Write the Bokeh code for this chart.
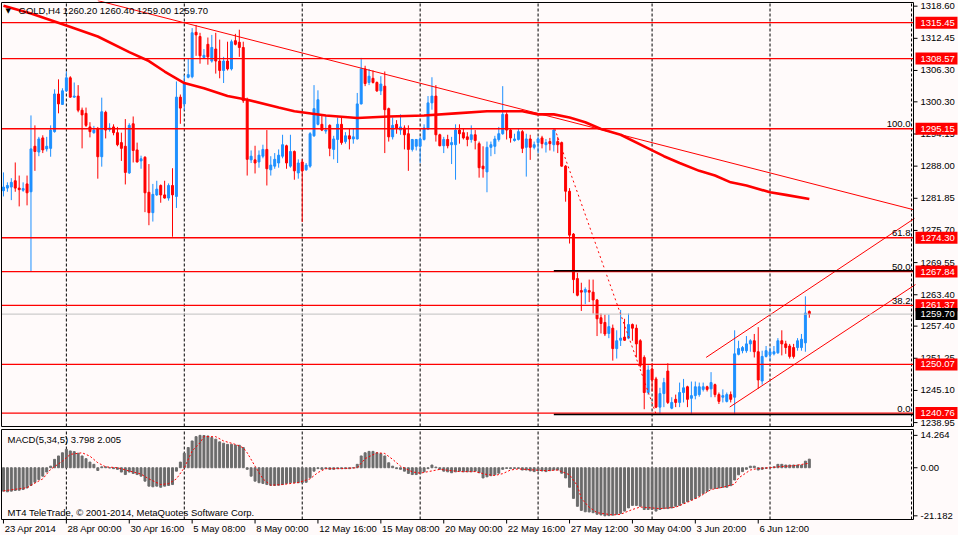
from bokeh.plotting import figure
from bokeh.models import Range1d, ColumnDataSource
from bokeh.layouts import column
from bokeh.embed import file_html
from bokeh.resources import INLINE
from bokeh.core.properties import value

# ---------------- data ----------------
opens = [1283.3,1283.8,1284.0,1285.2,1283.8,1283.4,1284.6,1283.1,1291.8,1290.7,
1293.4,1291.3,1291.4,1294.6,1301.8,1299.8,1302.4,1304.9,1301.2,1301.4,
1298.7,1298.1,1295.5,1294.4,1295.2,1289.8,1298.3,1295.0,1295.5,1294.4,
1292.5,1291.8,1286.7,1296.1,1291.1,1289.0,1289.7,1283.0,1279.1,1282.5,
1284.3,1282.5,1281.9,1284.3,1282.2,1301.2,1299.9,1305.0,1305.1,1313.6,
1312.8,1308.8,1311.3,1308.1,1310.4,1308.1,1306.3,1308.1,1306.6,1312.0,
1311.7,1310.7,1300.7,1289.2,1289.2,1288.8,1289.9,1291.2,1287.3,1288.0,
1288.6,1289.9,1291.9,1288.0,1290.8,1286.7,1288.8,1287.3,1288.0,1293.8,
1296.0,1296.0,1294.7,1295.8,1291.2,1293.1,1296.0,1292.7,1293.8,1293.2,
1293.2,1299.9,1306.6,1304.0,1304.8,1304.0,1302.4,1303.3,1299.0,1293.6,
1296.0,1294.9,1295.3,1294.2,1291.2,1291.8,1291.8,1293.1,1295.1,1300.1,
1301.4,1294.0,1291.9,1293.1,1292.1,1292.1,1294.9,1294.4,1293.6,1293.1,
1294.0,1292.3,1288.0,1286.9,1291.6,1291.8,1293.1,1294.2,1297.9,1294.9,
1292.9,1293.1,1294.6,1291.6,1293.2,1291.6,1292.5,1293.4,1292.1,1292.7,
1292.1,1292.7,1292.5,1288.0,1283.2,1275.0,1266.5,1264.2,1263.9,1264.2,
1263.9,1262.4,1259.0,1258.1,1256.0,1257.0,1253.1,1254.7,1255.3,1255.1,
1257.7,1257.0,1254.6,1251.4,1244.7,1249.2,1247.3,1241.9,1244.5,1248.8,
1241.7,1243.4,1242.8,1244.7,1245.8,1243.6,1244.1,1244.3,1245.3,1245.8,
1245.4,1246.2,1244.3,1243.8,1243.0,1244.3,1243.8,1252.0,1252.7,1252.7,
1254.0,1254.6,1252.5,1246.9,1251.6,1251.9,1252.1,1252.3,1254.6,1254.0,
1253.6,1253.3,1253.3,1253.3,1254.2,1260.2]
highs = [1286.8,1284.9,1285.7,1288.7,1286.2,1284.9,1286.2,1297.7,1295.8,1293.6,
1293.9,1293.6,1295.8,1302.7,1304.6,1302.9,1306.1,1305.2,1304.0,1303.5,
1299.2,1299.2,1296.4,1295.7,1295.5,1301.1,1298.6,1296.2,1296.0,1295.5,
1294.4,1297.0,1296.2,1297.5,1292.5,1290.0,1289.9,1288.4,1284.6,1285.2,
1284.5,1285.2,1284.7,1287.6,1304.2,1301.7,1305.4,1308.5,1314.4,1315.0,
1313.5,1310.4,1312.6,1313.1,1313.5,1312.2,1308.9,1311.8,1312.2,1313.3,
1314.1,1311.8,1301.1,1291.0,1291.9,1291.0,1292.1,1294.9,1289.9,1290.5,
1291.2,1294.0,1292.1,1294.0,1291.0,1289.3,1289.3,1288.6,1294.5,1303.5,
1302.5,1297.9,1297.7,1296.0,1293.8,1297.3,1297.3,1294.5,1295.3,1295.1,
1302.0,1308.7,1307.2,1306.6,1306.3,1304.2,1305.2,1306.1,1299.2,1297.3,
1296.8,1297.9,1295.8,1295.8,1293.2,1293.2,1293.6,1296.0,1301.4,1305.0,
1303.5,1294.2,1293.6,1294.0,1293.6,1296.0,1296.0,1295.1,1294.5,1295.8,
1294.9,1292.7,1291.8,1292.7,1292.7,1293.8,1295.5,1303.3,1298.3,1295.1,
1294.2,1295.1,1294.9,1294.2,1294.0,1292.7,1293.6,1293.8,1293.2,1293.4,
1295.15,1293.6,1292.7,1288.2,1283.8,1275.2,1267.6,1265.7,1264.8,1266.3,
1266.3,1262.6,1259.8,1259.6,1259.6,1257.7,1256.6,1260.5,1258.8,1259.8,
1257.9,1257.7,1254.9,1251.8,1249.9,1250.3,1247.7,1245.6,1247.5,1250.3,
1243.8,1244.3,1246.6,1247.3,1246.0,1246.8,1246.8,1246.6,1246.6,1246.0,
1248.6,1246.4,1244.7,1245.3,1244.7,1244.9,1256.6,1254.6,1253.6,1255.5,
1254.9,1255.9,1257.2,1252.7,1253.6,1253.3,1253.6,1255.1,1256.6,1254.6,
1254.0,1254.0,1255.1,1255.9,1263.1,1260.4]
lows = [1282.2,1283.1,1281.5,1283.1,1280.3,1283.1,1280.5,1267.9,1287.1,1289.9,
1290.5,1290.8,1289.8,1294.4,1298.1,1299.7,1302.2,1301.1,1301.1,1298.3,
1291.4,1295.5,1293.5,1294.2,1285.6,1287.9,1293.3,1294.6,1293.9,1291.8,
1289.0,1284.5,1286.5,1288.7,1288.7,1287.5,1279.2,1276.7,1277.4,1282.3,
1281.0,1281.8,1281.4,1274.5,1280.0,1296.1,1298.7,1304.8,1304.8,1309.1,
1307.6,1308.7,1307.4,1307.8,1305.7,1304.8,1303.9,1306.3,1306.3,1311.1,
1308.9,1300.1,1286.2,1288.6,1286.6,1287.7,1289.5,1284.3,1286.2,1287.5,
1287.7,1289.5,1287.5,1287.7,1285.4,1285.6,1277.3,1287.1,1287.7,1293.6,
1295.8,1294.7,1294.2,1289.9,1289.3,1288.6,1292.1,1292.3,1291.2,1292.3,
1293.1,1299.8,1303.3,1303.5,1303.8,1302.2,1301.6,1290.5,1292.7,1293.1,
1294.2,1294.0,1291.2,1287.1,1290.8,1291.0,1288.6,1292.9,1294.9,1298.8,
1292.7,1291.8,1290.5,1291.4,1288.4,1285.4,1292.3,1293.1,1291.8,1292.5,
1291.2,1285.8,1285.8,1283.0,1289.9,1290.3,1292.7,1294.0,1293.1,1292.5,
1292.7,1292.9,1290.5,1286.0,1289.2,1291.2,1290.5,1291.4,1290.6,1291.0,
1290.8,1290.5,1287.9,1281.2,1273.2,1263.7,1263.1,1260.3,1261.6,1262.0,
1259.8,1255.5,1256.0,1255.5,1255.1,1250.8,1251.2,1253.6,1254.6,1254.9,
1254.6,1251.4,1249.5,1241.5,1244.3,1244.9,1241.7,1240.6,1241.9,1242.5,
1241.5,1241.9,1241.9,1242.8,1241.9,1240.4,1243.4,1243.9,1244.9,1244.9,
1243.8,1243.8,1242.5,1242.8,1242.8,1242.8,1240.6,1251.8,1252.2,1252.3,
1252.5,1251.4,1245.4,1246.2,1251.4,1250.8,1251.8,1252.1,1251.8,1252.1,
1251.2,1251.2,1252.7,1252.7,1252.5,1259.0]
closes = [1284.0,1284.3,1284.9,1283.8,1283.5,1283.7,1282.9,1291.3,1290.8,1293.2,
1291.1,1291.8,1294.9,1301.8,1299.9,1302.4,1304.9,1301.2,1301.4,1298.7,
1297.8,1295.8,1294.6,1294.9,1289.8,1298.4,1294.9,1295.3,1294.4,1292.1,
1291.4,1286.8,1295.8,1291.0,1288.8,1289.4,1282.9,1279.1,1282.6,1283.6,
1282.5,1281.9,1284.3,1282.5,1301.2,1299.1,1303.7,1305.5,1313.5,1313.1,
1309.1,1309.2,1308.9,1310.7,1308.1,1306.3,1308.1,1306.6,1311.8,1311.3,
1310.7,1300.5,1289.3,1289.9,1288.6,1290.1,1291.2,1287.5,1288.2,1289.3,
1290.1,1292.1,1288.6,1290.8,1287.1,1288.6,1287.1,1288.2,1294.2,1299.0,
1300.7,1294.9,1294.9,1291.4,1293.2,1296.0,1292.5,1293.8,1293.2,1293.6,
1299.9,1306.6,1303.8,1305.2,1304.0,1302.4,1303.7,1298.8,1293.6,1295.8,
1295.3,1295.5,1294.0,1291.2,1293.1,1293.1,1293.2,1295.3,1300.1,1301.4,
1294.0,1291.9,1293.1,1291.9,1292.5,1294.9,1294.2,1293.4,1293.1,1294.0,
1292.9,1287.7,1287.5,1291.6,1292.1,1293.2,1294.2,1297.9,1294.9,1293.4,
1293.2,1294.6,1291.4,1293.2,1291.6,1292.1,1293.2,1292.3,1292.5,1292.3,
1294.9,1292.1,1288.0,1283.2,1274.8,1266.3,1263.3,1263.9,1264.4,1263.9,
1262.4,1258.8,1257.9,1255.9,1257.3,1253.1,1254.6,1255.1,1254.7,1257.7,
1257.0,1254.0,1249.9,1244.7,1249.0,1247.1,1241.9,1244.5,1246.6,1242.8,
1242.8,1242.8,1244.7,1245.6,1243.4,1244.1,1245.8,1245.8,1245.8,1245.3,
1246.6,1244.3,1243.0,1244.1,1244.3,1243.4,1252.1,1253.1,1253.3,1254.0,
1254.6,1252.5,1247.1,1251.6,1252.7,1252.5,1252.5,1254.6,1254.0,1253.3,
1251.6,1251.6,1254.6,1254.9,1259.9,1259.7]

macd_hist = [-10.3,-10.6,-10.3,-10.0,-9.9,-9.6,-8.9,-7.8,-6.4,-5.2,
-3.7,-1.9,0.7,3.7,5.2,6.6,8.1,7.4,7.1,6.4,
5.2,4.0,2.5,1.5,-1.2,0.4,0.4,-0.1,-0.4,-0.7,
-1.9,-3.0,-1.9,-2.5,-3.0,-3.7,-5.9,-8.1,-8.4,-8.1,
-8.6,-8.1,-7.8,-7.4,-1.5,2.5,6.4,8.9,11.8,13.7,
14.264,14.2,14.0,13.3,12.6,11.4,10.8,10.3,10.3,10.0,
9.9,8.9,-0.7,-3.7,-5.9,-6.6,-6.9,-7.4,-7.8,-7.8,
-7.7,-7.4,-6.9,-6.6,-6.6,-6.6,-6.6,-6.4,-4.4,-1.5,
-0.4,-0.7,-0.4,-0.7,-0.7,-0.4,-0.4,-0.4,-0.4,-0.1,
1.5,5.2,6.6,7.2,7.2,6.6,6.2,5.2,2.2,0.7,
-0.4,-0.7,-1.5,-2.5,-3.0,-3.0,-2.5,-1.8,-0.4,1.2,
0.3,-0.7,-1.5,-1.8,-2.2,-1.8,-1.5,-1.8,-1.8,-1.8,
-1.5,-2.2,-4.5,-4.0,-3.5,-3.1,-2.4,-0.7,-0.3,-0.4,
-0.3,-0.3,-1.0,-1.0,-1.4,-1.7,-1.3,-1.4,-1.7,-1.3,
-1.0,-1.0,-2.4,-4.5,-8.6,-13.5,-17.0,-18.8,-19.4,-19.5,
-19.8,-20.5,-20.8,-21.182,-21.1,-20.9,-20.5,-20.1,-19.1,-17.7,
-16.6,-16.6,-17.0,-18.4,-18.4,-18.4,-19.1,-18.4,-18.0,-18.0,
-17.7,-17.0,-16.6,-15.6,-14.9,-14.2,-13.5,-12.4,-11.4,-10.4,
-9.3,-9.1,-8.9,-8.6,-8.6,-7.9,-5.4,-3.1,-1.7,-0.7,
0.7,0.7,-1.0,-0.7,-0.3,0.1,0.4,1.5,1.5,1.2,
1.2,1.2,1.2,1.2,2.9,3.798]

signal_idx = [0,2,6,7,10,12,15,17,20,22,24,26,29,32,35,37,40,42,44,46,48,50,51,54,56,59,61,62,64,66,
              68,71,75,78,80,82,86,90,92,95,97,99,101,104,106,109,111,116,120,123,125,127,129,131,135,
              138,141,144,146,147,149,151,155,157,160,162,165,167,171,174,177,180,183,186,187,190,192,
              195,197,201,205]
signal_val = [-10.2,-9.7,-8.8,-7.7,-4.9,-0.7,2.9,5.9,6.6,5.1,2.2,0.4,0.0,-1.4,-2.8,-4.9,-7.4,-7.0,-4.9,0.0,
              7.4,11.0,13.7,13.7,11.8,10.3,8.8,6.6,0.7,-4.9,-7.7,-7.4,-6.5,-4.9,-2.1,-0.4,-0.4,0.0,4.0,6.6,
              6.3,3.7,0.7,-1.8,-2.4,-1.4,-0.7,-1.7,-1.7,-3.0,-3.4,-2.6,-1.0,-0.5,-1.0,-1.3,-1.0,-3.1,-7.9,
              -13.5,-17.4,-19.8,-20.8,-20.5,-18.4,-17.3,-17.7,-18.0,-17.4,-15.2,-12.8,-9.6,-8.6,-7.2,-4.5,
              -1.0,-0.3,0.0,0.4,0.9,2.005]

ma_idx = [0,7,16,24,32,37,41,46,51,57,62,70,74,82,90,98,107,115,123,132,136,140,144,148,152,157,
          164,168,172,177,181,185,189,195,199,205]
ma_val = [1318.7,1317.2,1314.9,1312.8,1309.8,1308.1,1306.1,1303.9,1302.9,1301.4,1300.7,1299.2,1298.5,
          1297.7,1297.2,1297.5,1297.7,1298.1,1298.5,1298.5,1297.9,1297.9,1297.3,1296.4,1295.1,1294.0,
          1291.4,1289.9,1288.6,1287.1,1286.2,1284.9,1284.3,1283.0,1282.5,1281.7]

level_prices = [1315.45, 1308.57, 1295.15, 1274.30, 1267.84, 1261.37, 1250.07, 1240.76]
bid_price = 1259.70

fib_ratio_labels = ["100.0", "61.8", "50.0", "38.2", "0.0"]
fib_label_prices = [1295.15, 1274.30, 1267.84, 1261.37, 1240.76]
fib_black_prices = [1268.0, 1240.5]
fib_start_idx = 140
fib_line_idx = [140.25, 166.0]
fib_line_price = [1295.15, 1240.6]

down_tl_idx = [24.0, 231.5]
down_tl_price = [1319.66, 1279.67]
chan_up_idx = [178.75, 231.75]
chan_up_price = [1251.41, 1278.0]
chan_lo_idx = [184.75, 232.0]
chan_lo_price = [1241.92, 1265.35]

price_ticks = [1318.60, 1312.45, 1306.30, 1300.30, 1294.15, 1288.00, 1281.85, 1275.70,
               1269.55, 1263.40, 1257.40, 1251.25, 1245.10, 1238.95]
macd_ticks = [14.264, 0.0, -21.182]
macd_tick_labels = ["14.264", "0.00", "-21.182"]
time_tick_idx = [0,16,32,48,64,80,96,112,128,144,160,176,192]
time_tick_labels = ["23 Apr 2014","28 Apr 00:00","30 Apr 16:00","5 May 08:00","8 May 00:00",
                    "12 May 16:00","15 May 08:00","20 May 00:00","22 May 16:00","27 May 12:00",
                    "30 May 04:00","3 Jun 20:00","6 Jun 12:00"]
grid_idx = [16, 46, 76, 106, 136, 165, 195, 231]

header_text = "GOLD,H4  1260.20 1260.40 1259.00 1259.70"
macd_text = "MACD(5,34,5) 3.798 2.005"
footer_text = "MT4 TeleTrade, \u00a9 2001-2014, MetaQuotes Software Corp."

# ---------------- geometry ----------------
FONT = "Liberation Sans"
FS = "9.5px"
BG = "#FFFAFA"
RED = "#FF0000"
BLUE = "#1E90FF"
TOTAL_W = 958
CX0, CW = 1, 912            # chart area inside the frame (px)
MAIN_H, CY0, CH = 428, 2, 424
MACD_H, MY0, MH = 107, 1, 90
XS, XE = -0.5, 231.5
YS, YE = 1238.2, 1319.3
MS, ME = -22.8, 16.85

kx = CW / (XE - XS)
ky = CH / (YE - YS)
km = MH / (ME - MS)
X0 = XS - CX0 / kx
X1 = XE + (TOTAL_W - CX0 - CW) / kx

def xr(px):
    return XS + px / kx

def ymain(py):
    return YE - py / ky

def ymacd(py):
    return ME - py / km

x_range = Range1d(X0, X1)

n = len(opens)
idx = list(range(n))
cols = [BLUE if c >= o else RED for o, c in zip(opens, closes)]
src = ColumnDataSource(dict(x=idx, o=opens, h=highs, l=lows, c=closes,
                            top=[max(a, b) for a, b in zip(opens, closes)],
                            bot=[min(a, b) for a, b in zip(opens, closes)],
                            col=cols, macd=macd_hist))

def base_fig(h, yr):
    f = figure(frame_width=TOTAL_W, frame_height=h, x_range=x_range, y_range=yr,
               output_backend="svg", toolbar_location=None, x_axis_location=None,
               y_axis_location=None, background_fill_color=BG, border_fill_color=BG,
               min_border=0)
    f.outline_line_color = None
    f.grid.grid_line_color = None
    return f

def txt(f, x, y, t, align="left", baseline="middle", color="black"):
    f.text(x=list(x), y=list(y), text=list(t), text_font=value(FONT), text_font_size=value(FS),
           text_align=align, text_baseline=baseline, text_color=color)

# ---------------- main panel ----------------
p = base_fig(MAIN_H, Range1d(YS - (MAIN_H - CY0 - CH) / ky, YE + CY0 / ky))

p.segment(x0=grid_idx, y0=[YS] * len(grid_idx), x1=grid_idx, y1=[YE] * len(grid_idx),
          color="black", line_dash="3 2", line_width=1)

p.segment(x0="x", y0="l", x1="x", y1="h", color="col", line_width=1, source=src)
p.vbar(x="x", width=0.5, top="top", bottom="bot", fill_color="col", line_color="col",
       line_width=1, source=src)

p.line(ma_idx, ma_val, color=RED, line_width=2.6)
p.line(down_tl_idx, down_tl_price, color=RED, line_width=1)
p.line(chan_up_idx, chan_up_price, color=RED, line_width=1)
p.line(chan_lo_idx, chan_lo_price, color=RED, line_width=1)
p.line(fib_line_idx, fib_line_price, color=RED, line_width=1, line_dash="2 3")

p.segment(x0=[XS], y0=[bid_price], x1=[XE], y1=[bid_price], color="#C0C0C0", line_width=1)
nl = len(level_prices)
p.segment(x0=[XS] * nl, y0=level_prices, x1=[XE] * nl, y1=level_prices, color=RED, line_width=1.3)
nb = len(fib_black_prices)
p.segment(x0=[fib_start_idx] * nb, y0=fib_black_prices, x1=[XE] * nb, y1=fib_black_prices,
          color="black", line_width=1.6)

# frame borders
p.segment(x0=[XS, XS, XS, XE], y0=[YS, YE, YS, YS], x1=[XE, XE, XS, XE], y1=[YS, YE, YE, YE],
          color="black", line_width=1)

nf = len(fib_ratio_labels)
txt(p, [xr(CW - 3)] * nf, [v + 0.25 for v in fib_label_prices], fib_ratio_labels,
    align="right", baseline="bottom")

# right price scale
nt = len(price_ticks)
p.segment(x0=[XE] * nt, y0=price_ticks, x1=[xr(CW + 4)] * nt, y1=price_ticks,
          color="black", line_width=1)
lab_y = [max(v, ymain(CH + 2) + 5.5 / ky) for v in price_ticks]
txt(p, [xr(CW + 7)] * nt, lab_y, [f"{v:.2f}" for v in price_ticks])

box_x = xr(CW + 2 + 21)
p.rect(x=[box_x] * nl, y=level_prices, width=42, height=12, width_units="screen",
       height_units="screen", fill_color=RED, line_color=None)
txt(p, [xr(CW + 7)] * nl, level_prices, [f"{v:.2f}" for v in level_prices], color="white")
p.rect(x=[box_x], y=[bid_price], width=42, height=12, width_units="screen",
       height_units="screen", fill_color="black", line_color=None)
txt(p, [xr(CW + 7)], [bid_price], [f"{bid_price:.2f}"], color="white")

p.text(x=[xr(4)], y=[ymain(8)], text=["\u25bc"], text_font=value("DejaVu Sans"),
       text_font_size=value("7px"), text_align="left", text_baseline="middle", text_color="black")
txt(p, [xr(17)], [ymain(8)], [header_text])

# ---------------- MACD panel ----------------
m = base_fig(MACD_H, Range1d(MS - (MACD_H - MY0 - MH) / km, ME + MY0 / km))
m.segment(x0=grid_idx, y0=[MS] * len(grid_idx), x1=grid_idx, y1=[ME] * len(grid_idx),
          color="black", line_dash="3 2", line_width=1)
m.vbar(x="x", width=0.5, top="macd", bottom=0, fill_color="#6B6B6B", line_color="#6B6B6B",
       line_width=1, source=src)
m.line(signal_idx, signal_val, color=RED, line_width=1, line_dash="2 2")
m.segment(x0=[XS, XS, XS, XE], y0=[MS, ME, MS, MS], x1=[XE, XE, XS, XE], y1=[MS, ME, ME, ME],
          color="black", line_width=1)

nmt = len(macd_ticks)
m.segment(x0=[XE] * nmt, y0=macd_ticks, x1=[xr(CW + 4)] * nmt, y1=macd_ticks,
          color="black", line_width=1)
txt(m, [xr(CW + 7)] * nmt, macd_ticks, macd_tick_labels)

ntt = len(time_tick_idx)
m.segment(x0=time_tick_idx, y0=[MS] * ntt, x1=time_tick_idx, y1=[ymacd(MH + 4)] * ntt,
          color="black", line_width=1)
txt(m, [t + 1.2 / kx for t in time_tick_idx], [ymacd(MH + 3)] * ntt, time_tick_labels,
    baseline="top")

txt(m, [xr(6)], [ymacd(10)], [macd_text])
txt(m, [xr(6)], [ymacd(83)], [footer_text])

layout = column(p, m, spacing=0)
open("out.html", "w").write(file_html(layout, INLINE))
